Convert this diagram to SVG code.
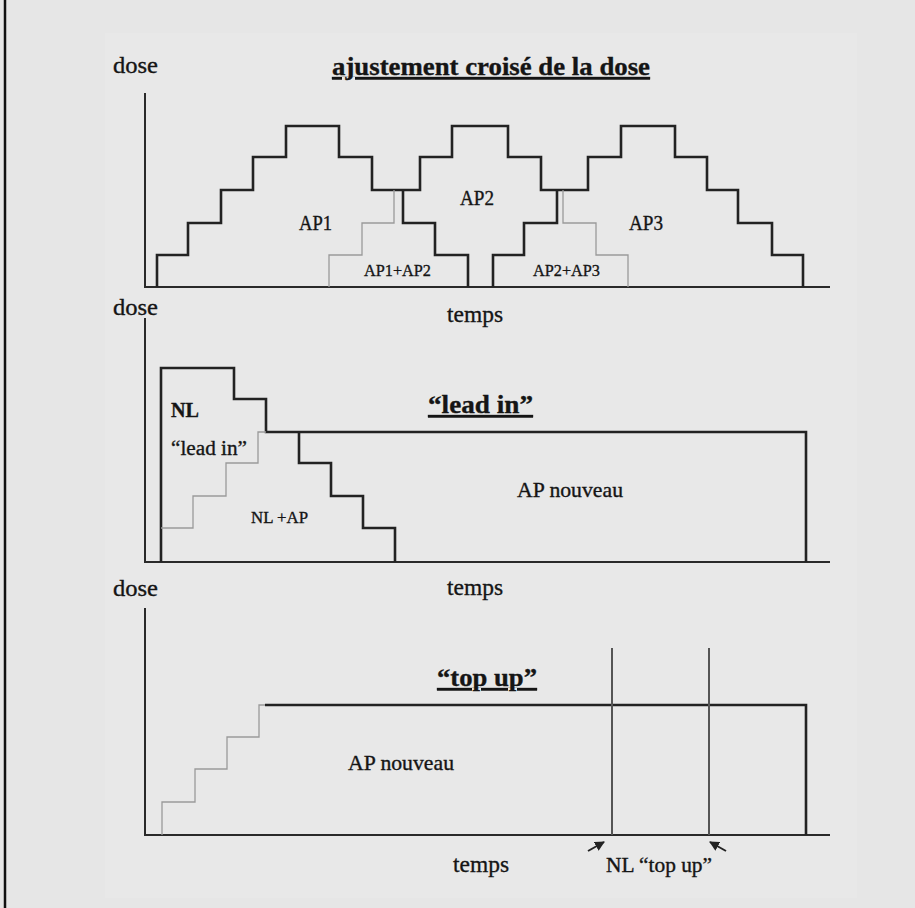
<svg xmlns="http://www.w3.org/2000/svg" width="915" height="908" viewBox="0 0 915 908">
<defs>
<style>
text{font-family:"Liberation Serif","Times New Roman",serif;fill:#151515;stroke:#151515;stroke-width:0.35}
.ax{fill:none;stroke:#2a2a2a;stroke-width:2}
.thick{fill:none;stroke:#222;stroke-width:2.6;stroke-linejoin:miter}
.grey{fill:none;stroke:#9a9a9a;stroke-width:1.3}
.vl{fill:none;stroke:#555;stroke-width:2}
.ttl{font-weight:bold;text-decoration:underline;font-size:26px}
.lab{font-size:24px}
.ap{font-size:20px}
.sm{font-size:17px}
.arr{stroke:#222;stroke-width:2;fill:none}
</style>
<marker id="ah" viewBox="0 0 10 10" refX="9" refY="5" markerWidth="5" markerHeight="5" orient="auto">
<path d="M0,0 L10,5 L0,10 z" fill="#222"/>
</marker>
</defs>
<rect x="0" y="0" width="915" height="908" fill="#e6e6e6"/>
<rect x="105" y="33" width="752" height="865" fill="#e8e8e8"/>
<line x1="5" y1="0" x2="5" y2="908" stroke="#111" stroke-width="2.5"/>

<g id="panel1">
<g id="axes1"><path class="ax" d="M145,93 V287 H830"/></g>
<g id="labels1">
<text class="lab" x="113" y="73" textLength="45" lengthAdjust="spacingAndGlyphs">dose</text>
<text class="ttl" x="332" y="75" textLength="318" lengthAdjust="spacingAndGlyphs">ajustement croisé de la dose</text>
<text class="lab" x="447" y="322" textLength="56" lengthAdjust="spacingAndGlyphs">temps</text>
</g>
<g id="ap-curve1"><path class="thick" d="M157,287 V255 H188 V223 H221 V190 H253 V157 H286 V126 H339 V157 H372 V190 H420 V157 H452 V126 H508 V157 H541 V190 H588 V157 H621 V126 H675 V157 H707 V190 H738 V223 H772 V255 H803 V287"/></g>
<g id="ap1-tail"><path class="thick" d="M403,190 V223 H435 V255 H468 V287"/></g>
<g id="ap2-rise"><path class="grey" d="M329,287 V255 H362 V223 H394 V190"/></g>
<g id="ap3-rise"><path class="thick" d="M493,287 V255 H524 V223 H557 V190"/></g>
<g id="ap2-tail"><path class="grey" d="M563,190 V223 H596 V255 H628 V287"/></g>
<g id="ap1"><text class="ap" x="299" y="230" textLength="33" lengthAdjust="spacingAndGlyphs">AP1</text></g>
<g id="ap2"><text class="ap" x="460" y="205" textLength="34" lengthAdjust="spacingAndGlyphs">AP2</text></g>
<g id="ap3"><text class="ap" x="629" y="230" textLength="34" lengthAdjust="spacingAndGlyphs">AP3</text></g>
<g id="ap1ap2"><text class="sm" x="364" y="276" textLength="67" lengthAdjust="spacingAndGlyphs">AP1+AP2</text></g>
<g id="ap2ap3"><text class="sm" x="533" y="276" textLength="67" lengthAdjust="spacingAndGlyphs">AP2+AP3</text></g>
</g>

<g id="panel2">
<g id="axes2"><path class="ax" d="M145,318 V562 H830"/></g>
<g id="labels2">
<text class="lab" x="113" y="315" textLength="45" lengthAdjust="spacingAndGlyphs">dose</text>
<text class="ttl" x="428" y="413" textLength="105" lengthAdjust="spacingAndGlyphs">“lead in”</text>
<text class="lab" x="447" y="595" textLength="56" lengthAdjust="spacingAndGlyphs">temps</text>
</g>
<g id="nl-curve"><path class="thick" d="M161,562 V368 H234 V399 H266 V432 H806 V562"/></g>
<g id="nl-tail"><path class="thick" d="M299,432 V463 H331 V496 H363 V528 H395 V562"/></g>
<g id="ap-rise2"><path class="grey" d="M161,528 H193 V496 H226 V463 H258 V432 H266"/></g>
<g id="nl"><text x="171" y="417" font-size="20" font-weight="bold" textLength="28" lengthAdjust="spacingAndGlyphs">NL</text></g>
<g id="leadin"><text x="171" y="455" font-size="20" textLength="76" lengthAdjust="spacingAndGlyphs">“lead in”</text></g>
<g id="nlap"><text class="sm" x="251" y="523" textLength="57" lengthAdjust="spacingAndGlyphs">NL +AP</text></g>
<g id="apnouveau2"><text x="517" y="497" font-size="21" textLength="106" lengthAdjust="spacingAndGlyphs">AP nouveau</text></g>
</g>

<g id="panel3">
<g id="axes3"><path class="ax" d="M145,608 V835 H830"/></g>
<g id="labels3">
<text class="lab" x="113" y="596" textLength="45" lengthAdjust="spacingAndGlyphs">dose</text>
<text class="ttl" x="437" y="686" textLength="100" lengthAdjust="spacingAndGlyphs">“top up”</text>
<text class="lab" x="453" y="872" textLength="56" lengthAdjust="spacingAndGlyphs">temps</text>
</g>
<g id="ap-rise3"><path class="grey" d="M162,835 V802 H195 V769 H227 V737 H259 V705 H265"/></g>
<g id="ap-curve3"><path class="thick" d="M265,705 H806 V835"/></g>
<g id="topup1"><line class="vl" x1="612" y1="648" x2="612" y2="835"/></g>
<g id="topup2"><line class="vl" x1="709" y1="648" x2="709" y2="835"/></g>
<g id="apnouveau3"><text x="348" y="770" font-size="21" textLength="106" lengthAdjust="spacingAndGlyphs">AP nouveau</text></g>
<g id="nltopup"><text x="606" y="872" font-size="20" textLength="106" lengthAdjust="spacingAndGlyphs">NL “top up”</text></g>
</g>

<g id="connectors">
<line class="arr" x1="588" y1="851" x2="604" y2="842" marker-end="url(#ah)"/>
<line class="arr" x1="726" y1="851" x2="710" y2="842" marker-end="url(#ah)"/>
</g>
</svg>
